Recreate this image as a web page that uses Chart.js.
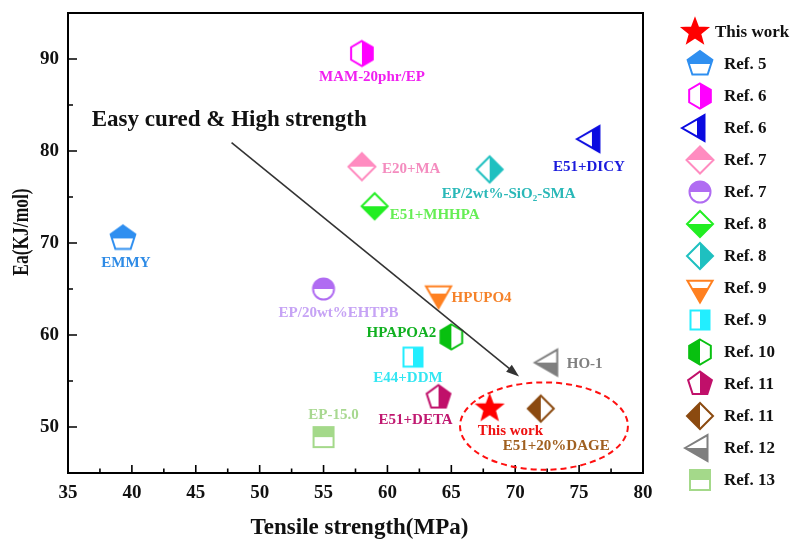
<!DOCTYPE html>
<html>
<head>
<meta charset="utf-8">
<script src="https://cdn.jsdelivr.net/npm/chart.js@4/dist/chart.umd.min.js"></script>
<style>
html,body{margin:0;padding:0;background:#fff;}
canvas{display:block;}
</style>
</head>
<body>
<canvas id="c" width="799" height="547"></canvas>
<script>
// ---- data ----
const sampleNames = ['This work','EMMY','MAM-20phr/EP','E51+DICY','E20+MA','EP/20wt%EHTPB','E51+MHHPA','EP/2wt%-SiO\u2082-SMA','HPUPO4','E44+DDM','HPAPOA2','E51+DETA','E51+20%DAGE','HO-1','EP-15.0'];
const refNames = ['This work','Ref. 5','Ref. 6','Ref. 6','Ref. 7','Ref. 7','Ref. 8','Ref. 8','Ref. 9','Ref. 9','Ref. 10','Ref. 11','Ref. 11','Ref. 12','Ref. 13'];
const tensileStrength = [68, 39.3, 58, 76, 58, 55, 59, 68, 64, 62, 65, 64, 72, 72.7, 55];
const activationEnergy = [52, 70.5, 90.6, 81.3, 78.3, 65, 74, 78, 64.5, 57.6, 59.8, 53.2, 52, 57, 48.9];
const xTickValues = [35, 40, 45, 50, 55, 60, 65, 70, 75, 80];
const yTickValues = [50, 60, 70, 80, 90];
const xMinorTicks = [37.5, 42.5, 47.5, 52.5, 57.5, 62.5, 67.5, 72.5, 77.5];
const yMinorTicks = [55, 65, 75, 85];

// ---- styles ----
const markerSpec = [
  ['star', 13, '#ff0000', 'full'],
  ['pentagon', 13, '#2f8ff0', 'top'],
  ['hexagon', 12.5, '#ff00ff', 'right'],
  ['triLeft', 15, '#0a0ae0', 'right'],
  ['diamond', 13.5, '#ff8cc0', 'top'],
  ['circle', 10.5, '#b06cf2', 'top'],
  ['diamond', 13, '#22ee22', 'bottom'],
  ['diamond', 13, '#1fc0c0', 'right'],
  ['triDown', 14.5, '#ff8020', 'bottom'],
  ['square', 9.5, '#22eeff', 'right'],
  ['hexagon', 12.5, '#08c010', 'left'],
  ['pentagon', 12.5, '#c0106a', 'right'],
  ['diamond', 13, '#8b4a10', 'left'],
  ['triLeft', 15, '#7f7f7f', 'bottom'],
  ['square', 10, '#a4d98a', 'top']
];
const labelColors = ['#ee1111','#2e8be6','#f020f0','#1a1adc','#f48cbf','#c6a3f5','#66ee55','#2ab8b8','#f5822a','#33e6f2','#10b020','#c01870','#a06020','#808080','#a8d890'];
// label offset from point [dx, dy, align]
const labelOffset = [[-12,23,'left'],[3,25,'center'],[10,24,'center'],[-3,28,'center'],[20,2,'left'],[15,24,'center'],[15,9,'left'],[19,25,'center'],[13,5,'left'],[-5,21,'center'],[-15,-4,'right'],[-23,23,'center'],[-38,38,'left'],[17,2,'left'],[10,-22,'center']];
const legendMarkerX = [695,700,700,697,700,700,700,700,700,700,700,700,700,700,700];

function makeMarker(shape, R, color, half) {
  const S = 36, c = S / 2;
  const cv = document.createElement('canvas');
  cv.width = S; cv.height = S;
  const g = cv.getContext('2d');
  const p = new Path2D();
  const poly = (pts) => { pts.forEach((q, k) => k ? p.lineTo(q[0], q[1]) : p.moveTo(q[0], q[1])); p.closePath(); };
  const reg = (n, start) => { const pts = []; for (let k = 0; k < n; k++) { const a = (start + 360 / n * k) * Math.PI / 180; pts.push([c + R * Math.cos(a), c + R * Math.sin(a)]); } poly(pts); };
  if (shape === 'star') {
    const pts = []; for (let k = 0; k < 10; k++) { const r = k % 2 ? R * 0.42 : R; const a = (-90 + 36 * k) * Math.PI / 180; pts.push([c + r * Math.cos(a), c + r * Math.sin(a)]); } poly(pts);
  } else if (shape === 'pentagon') reg(5, -90);
  else if (shape === 'hexagon') reg(6, -90);
  else if (shape === 'triLeft') reg(3, 180);
  else if (shape === 'triDown') reg(3, 90);
  else if (shape === 'diamond') poly([[c, c - R], [c + R, c], [c, c + R], [c - R, c]]);
  else if (shape === 'square') poly([[c - R, c - R], [c + R, c - R], [c + R, c + R], [c - R, c + R]]);
  else if (shape === 'circle') p.arc(c, c, R, 0, Math.PI * 2);
  g.fillStyle = '#fff'; g.fill(p);
  g.save(); g.clip(p); g.fillStyle = color;
  if (half === 'full') g.fillRect(0, 0, S, S);
  else if (half === 'top') g.fillRect(0, 0, S, c);
  else if (half === 'bottom') g.fillRect(0, c, S, S - c);
  else if (half === 'left') g.fillRect(0, 0, c, S);
  else if (half === 'right') g.fillRect(c, 0, S - c, S);
  g.restore();
  g.strokeStyle = color; g.lineWidth = 2; g.lineJoin = 'miter';
  g.stroke(p);
  return cv;
}
const markers = markerSpec.map(s => makeMarker(s[0], s[1], s[2], s[3]));

const SERIF = '"Liberation Serif", "Times New Roman", serif';

const decorPlugin = {
  id: 'decor',
  afterDatasetsDraw(chart) {
    const ctx = chart.ctx, a = chart.chartArea, xs = chart.scales.x, ys = chart.scales.y;
    ctx.save();
    // frame
    ctx.strokeStyle = '#000'; ctx.lineWidth = 2;
    ctx.strokeRect(a.left, a.top, a.right - a.left, a.bottom - a.top);
    // inward ticks
    ctx.lineWidth = 1.6;
    ctx.beginPath();
    xTickValues.forEach(v => { const x = xs.getPixelForValue(v); ctx.moveTo(x, a.bottom); ctx.lineTo(x, a.bottom - 8); });
    xMinorTicks.forEach(v => { const x = xs.getPixelForValue(v); ctx.moveTo(x, a.bottom); ctx.lineTo(x, a.bottom - 4.5); });
    yTickValues.forEach(v => { const y = ys.getPixelForValue(v); ctx.moveTo(a.left, y); ctx.lineTo(a.left + 9, y); });
    yMinorTicks.forEach(v => { const y = ys.getPixelForValue(v); ctx.moveTo(a.left, y); ctx.lineTo(a.left + 5, y); });
    ctx.stroke();

    // point labels
    ctx.font = 'bold 15px ' + SERIF;
    ctx.textBaseline = 'middle';
    chart.data.datasets.forEach((ds, i) => {
      const el = chart.getDatasetMeta(i).data[0];
      const o = labelOffset[i];
      ctx.fillStyle = labelColors[i];
      ctx.textAlign = o[2];
      ctx.fillText(sampleNames[i], el.x + o[0], el.y + o[1]);
    });

    // annotation text
    ctx.fillStyle = '#111';
    ctx.font = 'bold 23px ' + SERIF;
    ctx.textAlign = 'left'; ctx.textBaseline = 'alphabetic';
    ctx.fillText('Easy cured & High strength', xs.getPixelForValue(36.85), ys.getPixelForValue(82.7));

    // arrow
    const x1 = xs.getPixelForValue(47.8), y1 = ys.getPixelForValue(80.9);
    const x2 = xs.getPixelForValue(70.3), y2 = ys.getPixelForValue(55.5);
    const ang = Math.atan2(y2 - y1, x2 - x1);
    ctx.strokeStyle = '#333'; ctx.lineWidth = 1.6;
    ctx.beginPath(); ctx.moveTo(x1, y1); ctx.lineTo(x2 - 10 * Math.cos(ang), y2 - 10 * Math.sin(ang)); ctx.stroke();
    ctx.fillStyle = '#333';
    ctx.beginPath();
    ctx.moveTo(x2, y2);
    ctx.lineTo(x2 - 13 * Math.cos(ang) + 4.5 * Math.sin(ang), y2 - 13 * Math.sin(ang) - 4.5 * Math.cos(ang));
    ctx.lineTo(x2 - 13 * Math.cos(ang) - 4.5 * Math.sin(ang), y2 - 13 * Math.sin(ang) + 4.5 * Math.cos(ang));
    ctx.closePath(); ctx.fill();

    // dashed ellipse
    const cx = xs.getPixelForValue(72.25), cy = ys.getPixelForValue(50.1);
    const rx = xs.getPixelForValue(72.25 + 6.57) - cx, ry = cy - ys.getPixelForValue(50.1 + 4.75);
    ctx.strokeStyle = '#ff1010'; ctx.lineWidth = 2; ctx.setLineDash([6, 4]);
    ctx.beginPath(); ctx.ellipse(cx, cy, rx, ry, 0, 0, Math.PI * 2); ctx.stroke();
    ctx.setLineDash([]);

    // axis titles
    ctx.fillStyle = '#111';
    ctx.font = 'bold 23px ' + SERIF;
    ctx.textAlign = 'center'; ctx.textBaseline = 'middle';
    ctx.fillText('Tensile strength(MPa)', (a.left + a.right) / 2 + 4, 528);
    ctx.save();
    ctx.translate(22, 232); ctx.rotate(-Math.PI / 2); ctx.scale(0.76, 1);
    ctx.fillText('Ea(KJ/mol)', 0, 0);
    ctx.restore();

    // legend
    ctx.font = 'bold 17px ' + SERIF;
    ctx.textAlign = 'left'; ctx.textBaseline = 'middle';
    refNames.forEach((r, i) => {
      const y = 32 + 32 * i;
      const m = markers[i];
      ctx.drawImage(m, legendMarkerX[i] - m.width / 2, y - m.height / 2);
      ctx.fillStyle = '#111';
      ctx.fillText(r, i === 0 ? 715 : 724, y + 1);
    });
    ctx.restore();
  }
};

const datasets = sampleNames.map((n, i) => ({
  label: refNames[i],
  data: [{ x: tensileStrength[i], y: activationEnergy[i] }],
  pointStyle: markers[i],
  pointRadius: 12,
  pointHoverRadius: 12
}));

new Chart(document.getElementById('c'), {
  type: 'scatter',
  data: { datasets },
  options: {
    responsive: false,
    animation: false,
    layout: { padding: { top: 12, right: 156, left: 0, bottom: 0 } },
    plugins: { legend: { display: false }, tooltip: { enabled: false } },
    scales: {
      x: {
        type: 'linear', min: 35, max: 80,
        afterBuildTicks: s => { s.ticks = xTickValues.map(v => ({ value: v })); },
        ticks: { font: { family: SERIF, size: 19, weight: 'bold' }, color: '#111', padding: 9, maxRotation: 0 },
        grid: { display: false, drawTicks: false },
        border: { display: false },
        afterFit: s => { s.height = 74; s.paddingLeft = 0; s.paddingRight = 0; s.paddingTop = 0; s.paddingBottom = 0; }
      },
      y: {
        type: 'linear', min: 45, max: 95,
        afterBuildTicks: s => { s.ticks = yTickValues.map(v => ({ value: v })); },
        ticks: { font: { family: SERIF, size: 19, weight: 'bold' }, color: '#111', padding: 9 },
        grid: { display: false, drawTicks: false },
        border: { display: false },
        afterFit: s => { s.width = 68; s.paddingLeft = 0; s.paddingRight = 0; s.paddingTop = 0; s.paddingBottom = 0; }
      }
    }
  },
  plugins: [decorPlugin]
});
</script>
</body>
</html>
